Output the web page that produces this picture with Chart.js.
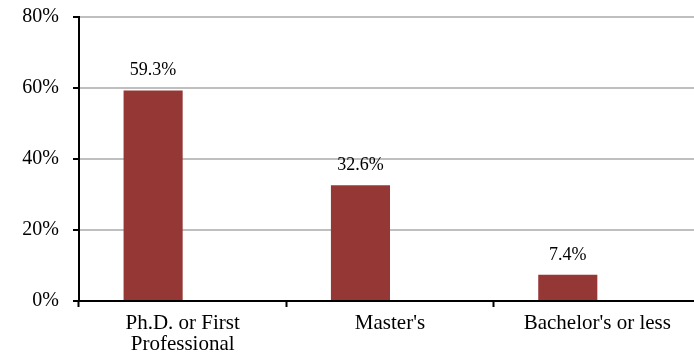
<!DOCTYPE html>
<html>
<head>
<meta charset="utf-8">
<script src="https://cdn.jsdelivr.net/npm/chart.js@4"></script>
<style>
  html, body { margin: 0; padding: 0; background: #fff; overflow: hidden; }
  #wrap { width: 701px; height: 360px; position: relative; }
</style>
</head>
<body>
<div id="wrap"><canvas id="myChart"></canvas></div>
<script>
const categories = [["Ph.D. or First", "Professional"], "Master's", "Bachelor's or less"];
const shares = [59.3, 32.6, 7.4];
const emptySeries = [null, null, null];
const yTicks = [0, 20, 40, 60, 80];

const barColor = '#953735';
const fontFamily = '"Liberation Serif", "Times New Roman", serif';

// writes the value above each bar of the first series
const valueLabels = {
    id: 'valueLabels',
    afterDatasetsDraw: function(chart) {
        const c = chart.ctx;
        const meta = chart.getDatasetMeta(0);
        c.save();
        c.font = '18px ' + fontFamily;
        c.fillStyle = '#000';
        c.textAlign = 'center';
        c.textBaseline = 'alphabetic';
        meta.data.forEach(function(bar, i) {
            c.fillText(shares[i].toFixed(1) + '%', bar.x, bar.y - 15);
        });
        c.restore();
    }
};

const ctx = document.getElementById('myChart').getContext('2d');
const myChart = new Chart(ctx, {
    type: 'bar',
    data: {
        labels: categories,
        datasets: [{
            data: shares,
            backgroundColor: barColor,
            borderWidth: 0
        }, {
            data: emptySeries,
            backgroundColor: 'rgba(0,0,0,0)',
            borderWidth: 0
        }]
    },
    options: {
        responsive: true,
        maintainAspectRatio: false,
        animation: false,
        layout: { padding: { top: 17, right: 0, left: 0, bottom: 0 } },
        datasets: {
            bar: { categoryPercentage: 0.57, barPercentage: 1.0 }
        },
        plugins: {
            legend: { display: false },
            tooltip: { enabled: false }
        },
        scales: {
            x: {
                grid: {
                    offset: true,
                    drawOnChartArea: false,
                    drawTicks: true,
                    tickLength: 6,
                    tickWidth: 2,
                    tickColor: '#000'
                },
                border: { display: true, color: '#000', width: 2 },
                ticks: {
                    color: '#000',
                    padding: 6,
                    maxRotation: 0,
                    autoSkip: false,
                    font: { family: fontFamily, size: 21, lineHeight: 1.0 }
                },
                afterFit: function(scale) {
                    scale.height = 59;
                    scale.paddingLeft = 0;
                    scale.paddingRight = 0;
                }
            },
            y: {
                min: 0,
                max: 80,
                afterBuildTicks: function(scale) {
                    scale.ticks = yTicks.map(function(v) { return { value: v }; });
                },
                grid: {
                    color: '#bfbfbf',
                    lineWidth: 2,
                    tickLength: 6,
                    tickWidth: 2,
                    tickColor: '#000'
                },
                border: { display: true, color: '#000', width: 2 },
                ticks: {
                    color: '#000',
                    padding: 14,
                    font: { family: fontFamily, size: 20 },
                    callback: function(v) { return v + '%'; }
                },
                afterFit: function(scale) {
                    scale.width = 79;
                    scale.paddingTop = 0;
                    scale.paddingBottom = 0;
                }
            }
        }
    },
    plugins: [valueLabels]
});
</script>
</body>
</html>
